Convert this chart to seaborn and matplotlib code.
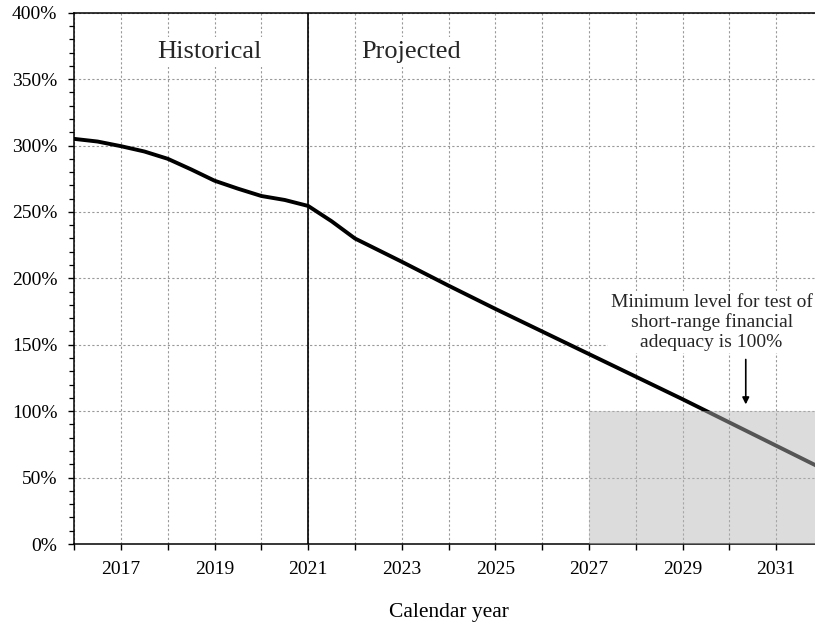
import numpy as np
import pandas as pd
import seaborn as sns
import matplotlib.pyplot as plt
from matplotlib.ticker import FixedLocator, MultipleLocator, FuncFormatter

# trust fund ratio (percent)
years = [2016, 2016.5, 2017, 2017.5, 2018, 2018.5, 2019, 2019.5, 2020, 2020.5, 2021,
         2021.5, 2022, 2023, 2024, 2025, 2026, 2027, 2028, 2029, 2030, 2031, 2032]
ratio = [305, 303, 299.5, 295.5, 290, 282, 273.5, 267.5, 262, 259, 254.5,
         243, 230, 212.5, 194.5, 177, 160, 143, 126, 109, 91.5, 74, 56.5]
tick_years = list(range(2016, 2033))
tick_labels = [str(y) if y % 2 == 1 else "" for y in tick_years]
y_ticks = [0, 50, 100, 150, 200, 250, 300, 350, 400]

df = pd.DataFrame({"year": years, "ratio": ratio})

sns.set_theme(style="ticks")
plt.rcParams["font.family"] = ["Liberation Serif", "DejaVu Serif"]

fig = plt.figure(figsize=(8.15, 6.22), dpi=100)
ax = fig.add_axes([0.0910, 0.1254, 0.9188, 0.8542])

sns.lineplot(data=df, x="year", y="ratio", ax=ax, color="black", lw=2.8, zorder=3)

ax.axvline(2021, color="black", lw=1.2, zorder=3)

ax.set_xlim(2016, 2032)
ax.set_ylim(0, 400)
ax.xaxis.set_major_locator(FixedLocator(tick_years))
ax.set_xticklabels(tick_labels)
ax.yaxis.set_major_locator(FixedLocator(y_ticks))
ax.yaxis.set_minor_locator(MultipleLocator(10))
ax.yaxis.set_major_formatter(FuncFormatter(lambda v, p: f"{v:.0f}%"))

ax.grid(True, which="major", color="#999999", lw=0.8, linestyle=(0, (2, 2)))
ax.tick_params(axis="both", which="major", direction="out", length=4, width=1,
               color="black", labelsize=14, labelcolor="black")
ax.tick_params(axis="y", which="major", pad=8)
ax.tick_params(axis="x", which="major", pad=8.5)
ax.tick_params(axis="y", which="minor", direction="out", length=3.5, width=0.9, color="black")

for s in ["left", "top", "bottom", "right"]:
    ax.spines[s].set_color("black")
    ax.spines[s].set_linewidth(1.1)

ax.set_xlabel("Calendar year", fontsize=15.5, color="black", labelpad=18)
ax.set_ylabel("")

box = dict(facecolor="white", edgecolor="none", pad=3)
ax.text(2018.9, 370.5, "Historical", fontsize=19, ha="center", va="center",
        bbox=box, zorder=4)
ax.text(2023.2, 370.5, "Projected", fontsize=19, ha="center", va="center",
        bbox=box, zorder=4)
ax.text(2029.62, 167, "Minimum level for test of\nshort-range financial\nadequacy is 100%",
        fontsize=14, ha="center", va="center", linespacing=1.18,
        bbox=dict(facecolor="white", edgecolor="none", pad=2), zorder=4)
ax.annotate("", xy=(2030.35, 103), xytext=(2030.35, 141),
            arrowprops=dict(arrowstyle="-|>", color="black", lw=1.2, mutation_scale=10),
            zorder=4)

# shaded zone below 100% from 2027 on, drawn on top of everything
ax.axvspan(2027, 2032, ymin=0, ymax=100 / 400, facecolor=(0.71, 0.71, 0.71),
           alpha=0.47, edgecolor="none", zorder=6, clip_on=False)

fig.savefig("out.png", dpi=100)
